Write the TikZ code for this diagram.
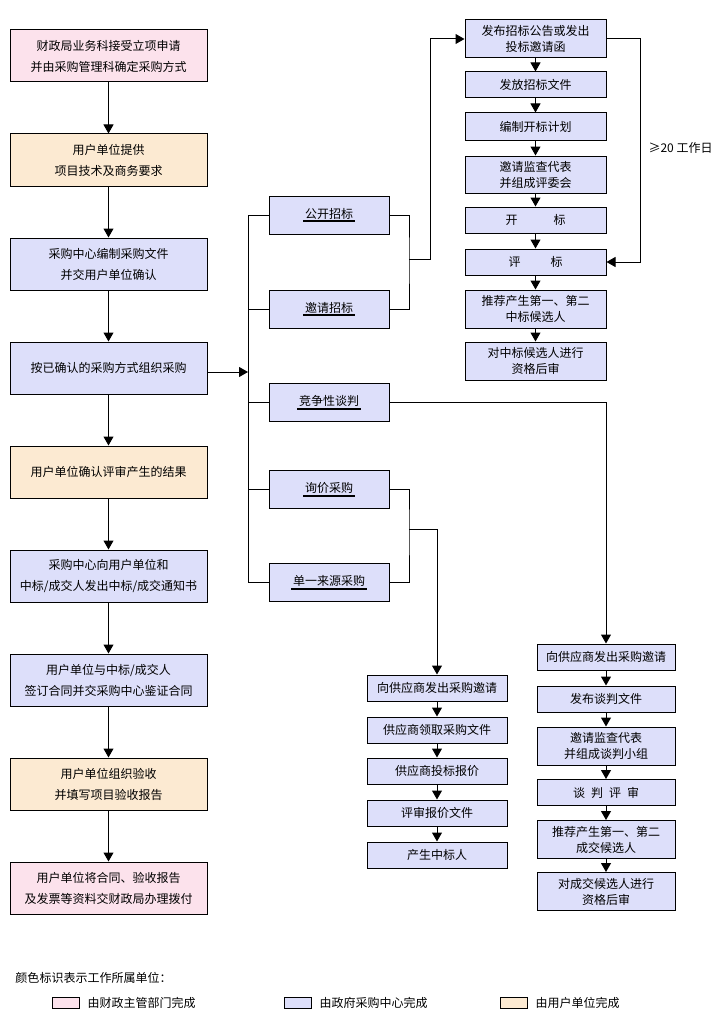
\documentclass[tikz,border=0pt]{standalone}
\usepackage{fontspec}
\setmainfont{Noto Sans CJK SC}
\usepackage{tikz}
\usetikzlibrary{arrows.meta}
\usetikzlibrary{positioning}

\definecolor{caizheng}{RGB}{252,226,236}
\definecolor{zhongxin}{RGB}{221,223,250}
\definecolor{yonghu}{RGB}{252,234,210}

\newcommand{\lnk}[1]{\sbox0{#1}\rlap{\hspace{-2pt}\rule[-4pt]{\dimexpr\wd0+4pt\relax}{1.6pt}}\usebox0}

\begin{document}
\begin{tikzpicture}[x=1pt, y=-1pt, line width=1pt,
every node/.style={inner sep=0pt, align=center, font=\fontsize{12}{16}\selectfont},
box/.style={draw, fill=zhongxin},
bigbox/.style={box, minimum width=197pt, minimum height=52pt, font=\fontsize{12}{21}\selectfont},
arr/.style={-{Triangle[length=9pt, width=10pt]}}]
\useasboundingbox (0,0) rectangle (719,1030);
% main column
\foreach \i/\c/\t in {1/caizheng/{财政局业务科接受立项申请\\并由采购管理科确定采购方式},
 2/yonghu/{用户单位提供\\项目技术及商务要求},
 3/zhongxin/{采购中心编制采购文件\\并交用户单位确认},
 4/zhongxin/{按已确认的采购方式组织采购},
 5/yonghu/{用户单位确认评审产生的结果},
 6/zhongxin/{采购中心向用户单位和\\中标/成交人发出中标/成交通知书},
 7/zhongxin/{用户单位与中标/成交人\\签订合同并交采购中心鉴证合同},
 8/yonghu/{用户单位组织验收\\并填写项目验收报告},
 9/caizheng/{用户单位将合同、验收报告\\及发票等资料交财政局办理拨付}}{
\node[bigbox, fill=\c] (s\i) at (108.5, {56+104*(\i-1)}) {\t};}
\foreach \i [count=\j from 2] in {1,...,8}{
\draw[arr] (s\i) -- (s\j);}
% procurement methods
\foreach \i/\y/\t in {1/215/公开招标, 2/309/邀请招标, 3/402.5/竞争性谈判, 4/489.5/询价采购, 5/582.5/单一来源采购}{
\node[box, minimum width=120pt, minimum height=38pt] (m\i) at (329,\y) {\lnk{\t}};}
\coordinate (bus) at (248,0);
\draw[arr] ([yshift=-4pt]s4.east) -- ([yshift=-4pt]s4.east -| bus);
\draw (m1.west -| bus) -- (m5.west -| bus);
\foreach \i in {1,...,5}{
\draw (m\i.west -| bus) -- (m\i.west);}
% tendering
\foreach \i/\y/\h/\t in {1/39/38/{发布招标公告或发出\\投标邀请函}, 2/85/26/发放招标文件,
 3/126.5/27/编制开标计划, 4/174.5/37/{邀请监查代表\\并组成评委会},
 5/220/26/{开\hspace{3em}标}, 6/262/26/{评\hspace{2.5em}标},
 7/309/38/{推荐产生第一、第二\\中标候选人}, 8/361/38/{对中标候选人进行\\资格后审}}{
\node[box, minimum width=141pt, minimum height=\h pt] (t\i) at (535.5,\y) {\t};}
\foreach \i [count=\j from 2] in {1,...,7}{
\draw[arr] (t\i) -- (t\j);}
\coordinate (ja) at (409,259);
\coordinate (ka) at (430,259);
\draw (m1.east) -| (ja) |- (m2.east);
\draw[arr] (ja) -- (ka) |- (t1.west);
\coordinate (jb) at (640,0);
\draw[arr] (t1.east) -- (t1.east -| jb) |- (t6.east);
\node[anchor=west] (gz) at (648,148) {≥20 工作日};
% negotiation
\foreach \i/\y/\h/\t in {1/657/26/向供应商发出采购邀请, 2/699/26/发布谈判文件,
 3/746/38/{邀请监查代表\\并组成谈判小组}, 4/792.5/26/{谈\hspace{.5em}判\hspace{.5em}评\hspace{.5em}审},
 5/839.5/38/{推荐产生第一、第二\\成交候选人}, 6/891.5/38/{对成交候选人进行\\资格后审}}{
\node[box, minimum width=138pt, minimum height=\h pt] (n\i) at (606,\y) {\t};}
\foreach \i [count=\j from 2] in {1,...,5}{
\draw[arr] (n\i) -- (n\j);}
\draw[arr] (m3.east) -| (n1.north);
% inquiry
\foreach \i/\y/\t in {1/688/向供应商发出采购邀请, 2/730/供应商领取采购文件, 3/771/供应商投标报价,
 4/813/评审报价文件, 5/855/产生中标人}{
\node[box, minimum width=140pt, minimum height=26pt] (q\i) at (437,\y) {\t};}
\foreach \i [count=\j from 2] in {1,...,4}{
\draw[arr] (q\i) -- (q\j);}
\coordinate (jc) at (409,529);
\draw (m4.east) -| (jc) |- (m5.east);
\draw[arr] (jc) -| (q1.north);
% legend
\node[anchor=west] (lg) at (15,978) {颜色标识表示工作所属单位：};
\foreach \c/\x/\t in {caizheng/52/由财政主管部门完成, zhongxin/284/由政府采购中心完成, yonghu/500/由用户单位完成}{
\node[draw, fill=\c, minimum width=27pt, minimum height=11pt, anchor=west] (c\x) at (\x,1003) {};
\node[anchor=west] (l\x) at ([xshift=7pt]c\x.east) {\t};}
\end{tikzpicture}
\end{document}
